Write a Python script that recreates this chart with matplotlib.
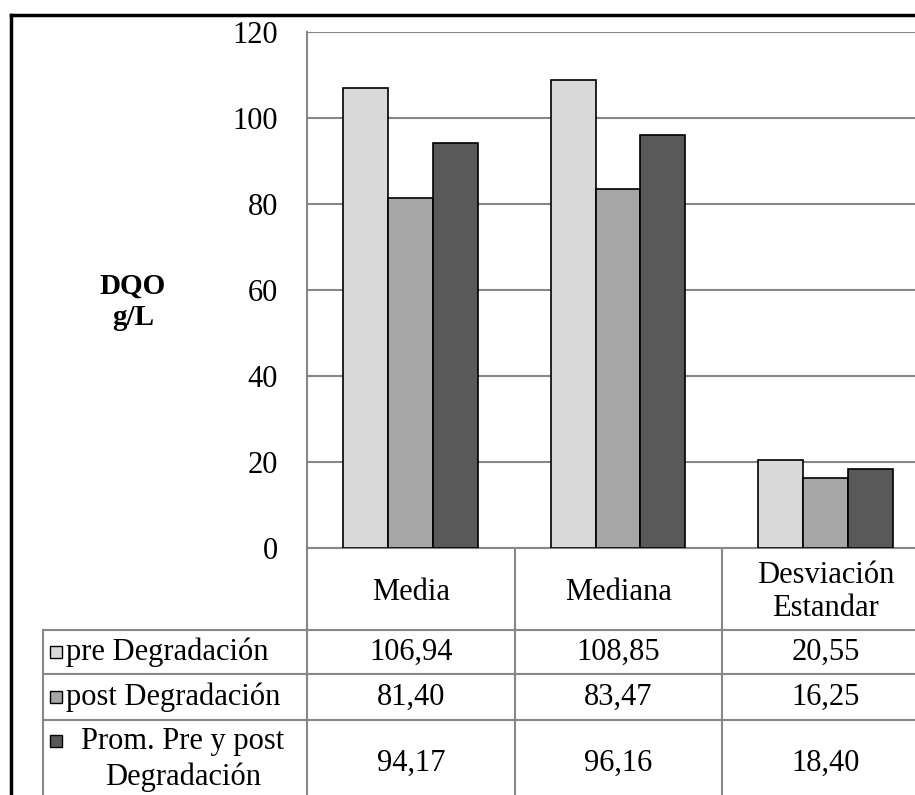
import matplotlib
matplotlib.use("Agg")
import matplotlib.pyplot as plt
import numpy as np

plt.rcParams['font.family'] = ['Liberation Serif', 'DejaVu Serif']

categories = ['Media', 'Mediana', 'Desviación\nEstandar']
series_names = ['pre Degradación', 'post Degradación', 'Prom. Pre y post\nDegradación']
pre_vals = [106.94, 108.85, 20.55]
post_vals = [81.40, 83.47, 16.25]
prom_vals = [94.17, 96.16, 18.40]
series_colors = ['#d9d9d9', '#a6a6a6', '#595959']
y_ticks = [0, 20, 40, 60, 80, 100, 120]

W, H = 915, 795
fig = plt.figure(figsize=(W / 100, H / 100), dpi=100)


def fx(px):
    return px / W


def fy(py):
    return 1 - py / H


grid_col = '#878787'
tfs = 22  # table font size

# plot area (right edge runs off the picture, as in the original)
ax = fig.add_axes([fx(307), fy(548), fx(929 - 307), (548 - 32) / H])
x = np.arange(len(categories))
w = 0.217
for i, vals in enumerate([pre_vals, post_vals, prom_vals]):
    ax.bar(x + (i - 1) * w, vals, width=w, color=series_colors[i],
           edgecolor='black', linewidth=1.2, zorder=3)
ax.set_xlim(-0.5, 2.5)
ax.set_ylim(0, 120)
ax.set_yticks(y_ticks)
ax.set_yticklabels([str(t) for t in y_ticks], fontsize=22)
ax.tick_params(axis='y', length=0, pad=21)
ax.set_xticks([])
ax.yaxis.grid(True, color=grid_col, linewidth=1.5, zorder=0)
ax.set_axisbelow(True)
for s in ['top', 'right']:
    ax.spines[s].set_visible(False)
for s in ['left', 'bottom']:
    ax.spines[s].set_color(grid_col)
    ax.spines[s].set_linewidth(1.5)

# overlay in pixel units for the data table and frame
ov = fig.add_axes([0, 0, 1, 1], zorder=-1)
ov.set_xlim(0, W)
ov.set_ylim(H, 0)
ov.axis('off')

# chart frame
ov.plot([11, 11], [H + 5, 15], color='black', linewidth=2.5, solid_capstyle='projecting')
ov.plot([11, W + 5], [15, 15], color='black', linewidth=2.5, solid_capstyle='projecting')

# y label
ov.text(133, 302, 'DQO\ng/L', fontsize=21, fontweight='bold', ha='center',
        va='center', linespacing=1.2)

# table grid
row_lines = [630, 674, 720]
for yy in row_lines:
    ov.plot([43, W + 5], [yy, yy], color=grid_col, linewidth=1.5)
ov.plot([43, 43], [630, H + 5], color=grid_col, linewidth=1.5)
for xx in [307, 515, 722]:
    ov.plot([xx, xx], [548, H + 5], color=grid_col, linewidth=1.5)

col_centers = [411, 618.5, 825.5]
row_centers = [652, 697, 763]

# header
for cx, cat in zip(col_centers, categories):
    ov.text(cx, 592, cat, fontsize=tfs, ha='center', va='center', linespacing=1.2)

# legend keys + row labels
key_y = [652, 697, 741]
for i, name in enumerate(series_names):
    ov.add_patch(plt.Rectangle((50, key_y[i] - 6), 12, 12, facecolor=series_colors[i],
                               edgecolor='black', linewidth=1.0))
ov.text(66, row_centers[0], series_names[0], fontsize=tfs, ha='left', va='center')
ov.text(66, row_centers[1], series_names[1], fontsize=tfs, ha='left', va='center')
for j, line in enumerate(series_names[2].split('\n')):
    ov.text(183, [741, 777][j], line, fontsize=tfs, ha='center', va='center')

# values
for r, vals in enumerate([pre_vals, post_vals, prom_vals]):
    for cx, v in zip(col_centers, vals):
        ov.text(cx, row_centers[r], f'{v:.2f}'.replace('.', ','), fontsize=tfs,
                ha='center', va='center')

fig.savefig('out.png', dpi=100)
